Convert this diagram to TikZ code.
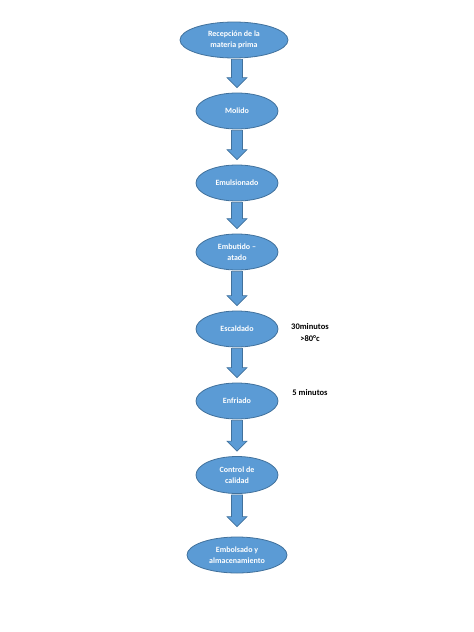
\documentclass[tikz,border=0pt]{standalone}
\usepackage{fontspec}
\setmainfont{Carlito}
\usetikzlibrary{shapes.geometric,calc}
\definecolor{fillblue}{HTML}{5B9BD5}
\definecolor{edgeblue}{HTML}{41719C}
\begin{document}
\begin{tikzpicture}[x=1pt,y=-1pt,
 stage/.style={ellipse, draw=edgeblue, line width=0.8pt, fill=fillblue, text=white,
   minimum width=82pt, minimum height=36pt, inner sep=0pt, align=center,
   font=\bfseries\fontsize{8}{11.5}\selectfont},
 note/.style={font=\bfseries\fontsize{8.5}{12}\selectfont, align=center, text=black},
 blockarrow/.style={fill=fillblue, draw=edgeblue, line width=0.6pt,
   to path={let \p1=(\tikztostart), \p2=(\tikztotarget) in
     (\x2-5.5pt,\y1-1pt) -- (\x2+5.5pt,\y1-1pt) -- (\x2+5.5pt,\y2+#1+10pt)
     -- (\x2+10pt,\y2+#1+10pt) -- (\x2,\y2+#1) -- (\x2-10pt,\y2+#1+10pt)
     -- (\x2-5.5pt,\y2+#1+10pt) -- cycle}},
 blockarrow/.default=5pt]
\useasboundingbox (0,0) rectangle (474,632);
\node[stage, minimum width=108pt] (e1) at (234,40) {Recepción de la\\materia prima};
\node[stage] (e2) at (237,111) {Molido};
\node[stage] (e3) at (237,183) {Emulsionado};
\node[stage] (e4) at (237,252) {Embutido –\\atado};
\node[stage] (e5) at (237,329) {Escaldado};
\node[stage] (e6) at (237,401) {Enfriado};
\node[stage, minimum height=37pt] (e7) at (237,475) {Control de\\calidad};
\node[stage, minimum width=100pt] (e8) at (237,555) {Embolsado y\\almacenamiento};
\draw[blockarrow] (e1.south) to (e2.north);
\draw[blockarrow] (e2.south) to (e3.north);
\draw[blockarrow] (e3.south) to (e4.north);
\draw[blockarrow] (e4.south) to (e5.north);
\draw[blockarrow] (e5.south) to (e6.north);
\draw[blockarrow] (e6.south) to (e7.north);
\draw[blockarrow=10pt] (e7.south) to (e8.north);
\node[note] (n1) at (310,333) {30minutos\\>80°c};
\node[note] (n2) at (310,393) {5 minutos};
\end{tikzpicture}
\end{document}
